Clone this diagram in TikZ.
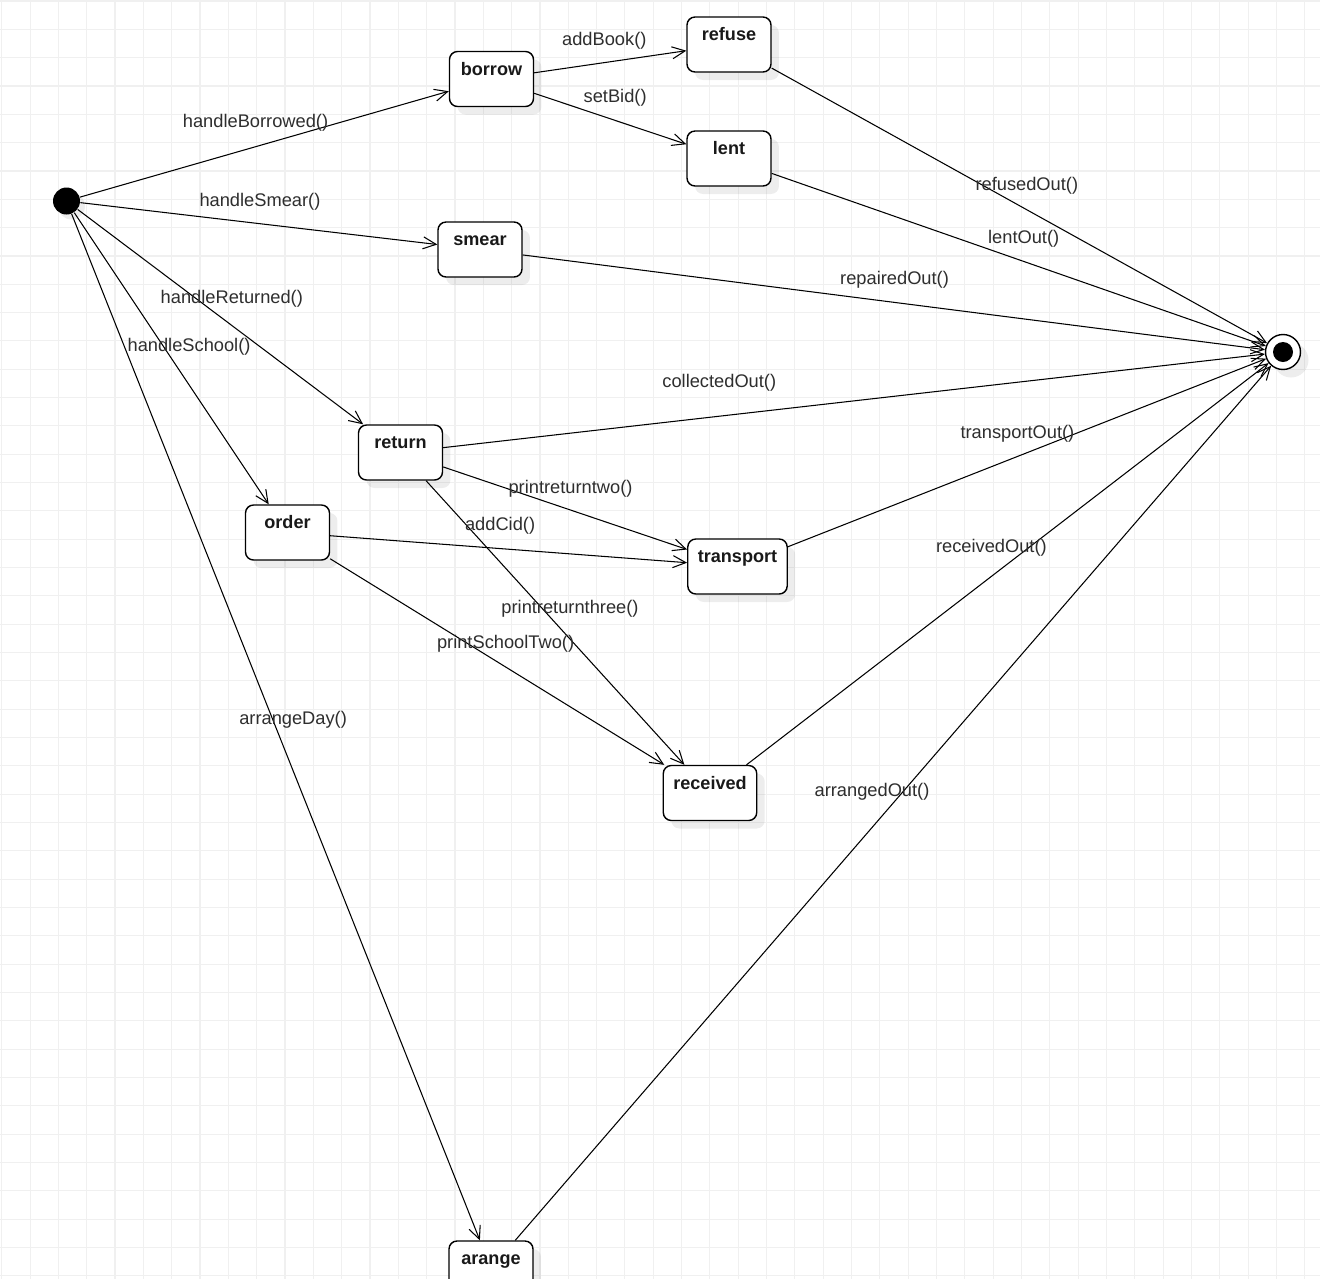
\documentclass[tikz,border=0pt]{standalone}
\usepackage{fontspec}
\setmainfont{Liberation Sans}
\usetikzlibrary{arrows.meta,shadows}

\begin{document}
\begin{tikzpicture}[x=0.02cm, y=-0.02cm, semithick,
    >={Straight Barb[length=2.6mm,width=2.4mm]},
    gridline/.style={draw=black!6, line width=0.6pt},
    box/.style={draw, thick, rounded corners=0.16cm, fill=white,
      minimum width=1.68cm, minimum height=1.1cm, inner xsep=0.2cm, inner ysep=0pt,
      text height=0.47cm, text depth=0.63cm,
      font=\fontsize{10.3}{12}\selectfont\bfseries, text=black!90,
      drop shadow={shadow xshift=0.16cm, shadow yshift=-0.16cm, fill=black, opacity=0.07}},
    startstate/.style={circle, fill=black, minimum size=0.54cm, inner sep=0pt,
      drop shadow={shadow xshift=0.1cm, shadow yshift=-0.1cm, fill=black, opacity=0.07}},
    endstate/.style={circle, draw, thick, fill=white, minimum size=0.7cm, inner sep=0pt,
      path picture={\fill[black] (path picture bounding box.center) circle (0.2cm);},
      drop shadow={shadow xshift=0.16cm, shadow yshift=-0.16cm, fill=black, opacity=0.07}},
    lbl/.style={font=\fontsize{10.4}{12}\selectfont, text=black!82, inner sep=0pt}]
  \useasboundingbox (0,0) rectangle (1320,1279);
  \clip (0,0) rectangle (1320,1279);
  \fill[white] (0,0) rectangle (1320,1279);
  % background grid
  \foreach \gx in {0,...,46}
    \draw[gridline] ({1.7+28.33*\gx},0) -- ++(0,1279);
  \foreach \gy in {0,...,45}
    \draw[gridline] (0,{1+28.33*\gy}) -- ++(1320,0);

  \node [startstate] (init) at (66.5,201) {};
  \node [box] (borrow) at (491.5,79) {borrow};
  \node [box] (refuse) at (729,44.5) {refuse};
  \node [box] (lent) at (729,158.5) {lent};
  \node [box] (smear) at (480,249.5) {smear};
  \node [box] (return) at (400.5,452.5) {return};
  \node [box] (order) at (287.5,532.5) {order};
  \node [box] (transport) at (737.5,566.5) {transport};
  \node [box] (received) at (710,793) {received};
  \node [box] (arange) at (491,1268.5) {arange};
  \node [endstate] (final) at (1283,352) {};

  \path [->]
  (init) edge node[lbl, pos=0.476, yshift=0.47cm] {handleBorrowed()} (borrow)
  (init) edge node[lbl, pos=0.503, yshift=0.43cm] {handleSmear()} (smear)
  (init) edge node[lbl, pos=0.540, yshift=0.53cm] {handleReturned()} (return)
  (init) edge node[lbl, pos=0.454, xshift=0.53cm, yshift=-0.04cm] {handleSchool()} (order)
  (init) edge node[lbl, pos=0.491, xshift=0.42cm, yshift=-0.04cm] {arrangeDay()} (arange)
  (borrow) edge node[lbl, pos=0.461, yshift=0.43cm] {addBook()} (refuse)
  (borrow) edge node[lbl, pos=0.532, yshift=0.45cm] {setBid()} (lent)
  (refuse) edge node[lbl, pos=0.515, yshift=0.48cm] {refusedOut()} (final)
  (lent) edge node[lbl, pos=0.510, yshift=0.45cm] {lentOut()} (final)
  (smear) edge node[lbl, pos=0.501, yshift=0.45cm] {repairedOut()} (final)
  (return) edge node[lbl, pos=0.336, yshift=0.67cm] {collectedOut()} (final)
  (return) edge node[lbl, pos=0.522, yshift=0.43cm] {printreturntwo()} (transport)
  (return) edge node[lbl, pos=0.443, xshift=0.59cm, yshift=-0.04cm] {printreturnthree()} (received)
  (order) edge node[lbl, pos=0.476, yshift=0.45cm] {addCid()} (transport)
  (order) edge node[lbl, pos=0.525, yshift=0.47cm] {printSchoolTwo()} (received)
  (transport) edge node[lbl, pos=0.480, yshift=0.45cm] {transportOut()} (final)
  (received) edge node[lbl, pos=0.469, yshift=0.58cm] {receivedOut()} (final)
  (arange) edge node[lbl, pos=0.472, yshift=0.71cm] {arrangedOut()} (final)
  ;
\end{tikzpicture}
\end{document}
